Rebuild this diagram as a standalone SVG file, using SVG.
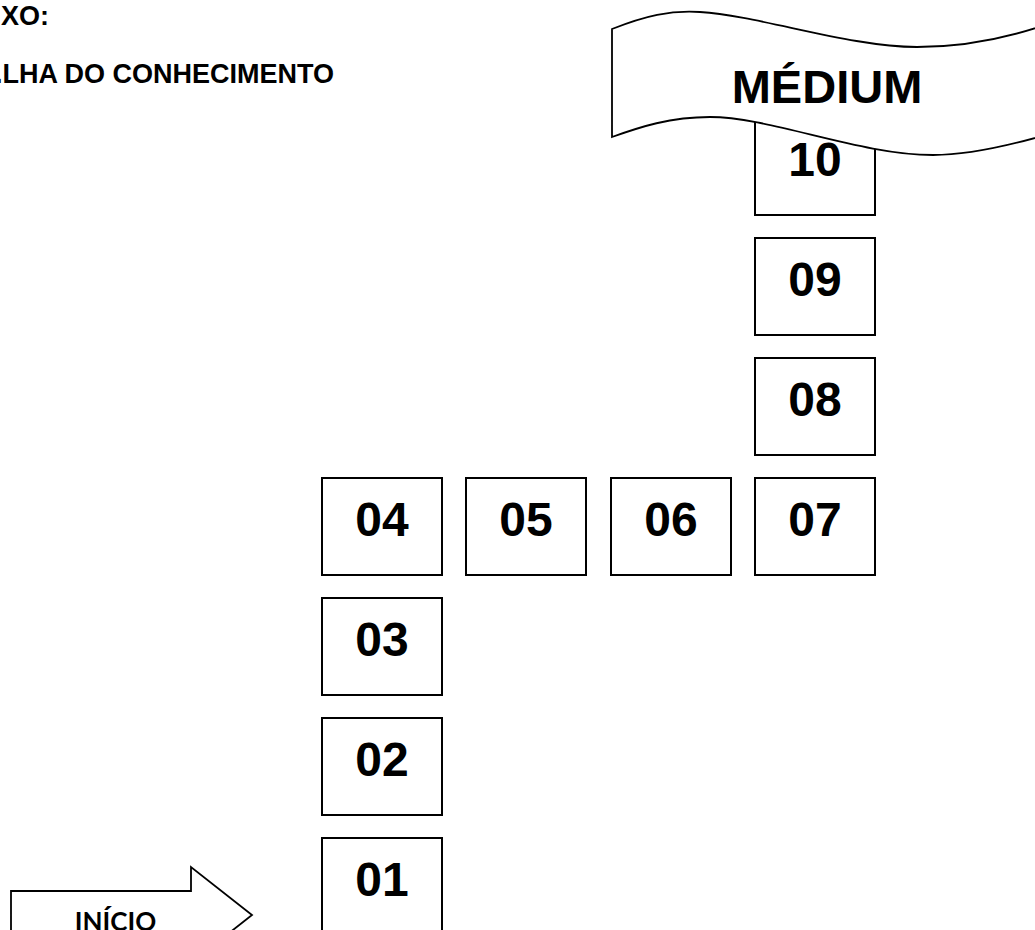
<svg xmlns="http://www.w3.org/2000/svg" width="1035" height="930" viewBox="0 0 1035 930">
<style>
.box rect{fill:#fff;stroke:#000;stroke-width:2}
.num{font-family:"Liberation Sans",Arial,sans-serif;font-weight:bold;font-size:48px;text-anchor:middle;fill:#000}
.hdr{font-family:"Liberation Sans",Arial,sans-serif;font-weight:bold;font-size:27px;fill:#000}
</style>
<rect width="1035" height="930" fill="#fff"/>
<g id="header">
<text class="hdr" x="1" y="25">XO:</text>
<text class="hdr" x="-5" y="83">.LHA DO CONHECIMENTO</text>
</g>
<g id="connectors"></g>
<g id="box01" class="box"><rect x="322" y="838" width="120" height="97"/><text class="num" x="382" y="896">01</text></g>
<g id="box02" class="box"><rect x="322" y="718" width="120" height="97"/><text class="num" x="382" y="776">02</text></g>
<g id="box03" class="box"><rect x="322" y="598" width="120" height="97"/><text class="num" x="382" y="656">03</text></g>
<g id="box04" class="box"><rect x="322" y="478" width="120" height="97"/><text class="num" x="382" y="536">04</text></g>
<g id="box05" class="box"><rect x="466" y="478" width="120" height="97"/><text class="num" x="526" y="536">05</text></g>
<g id="box06" class="box"><rect x="611" y="478" width="120" height="97"/><text class="num" x="671" y="536">06</text></g>
<g id="box07" class="box"><rect x="755" y="478" width="120" height="97"/><text class="num" x="815" y="536">07</text></g>
<g id="box08" class="box"><rect x="755" y="358" width="120" height="97"/><text class="num" x="815" y="416">08</text></g>
<g id="box09" class="box"><rect x="755" y="238" width="120" height="97"/><text class="num" x="815" y="296">09</text></g>
<g id="box10" class="box"><rect x="755" y="118" width="120" height="97"/><text class="num" x="815" y="176">10</text></g>
<g id="banner">
<path d="M612,29 C645,16 670,10 700,12 C760,16 850,47 917,47 C960,47 1000,40 1042,26 L1042,136 C1000,148 960,155 933,155 C860,155 770,117 710,117 C670,117 640,127 612,137 Z" fill="#fff" stroke="#000" stroke-width="1.8"/>
<text x="827" y="103" font-family="Liberation Sans,Arial,sans-serif" font-weight="bold" font-size="47" text-anchor="middle">MÉDIUM</text>
</g>
<g id="inicio">
<polygon points="11,891 191,891 191,867 252,915 191,963 191,939 11,939" fill="#fff" stroke="#000" stroke-width="1.8"/>
<text x="115.5" y="931" font-family="Lato,'Open Sans',sans-serif" font-weight="bold" font-size="26" text-anchor="middle">INÍCIO</text>
</g>
</svg>
